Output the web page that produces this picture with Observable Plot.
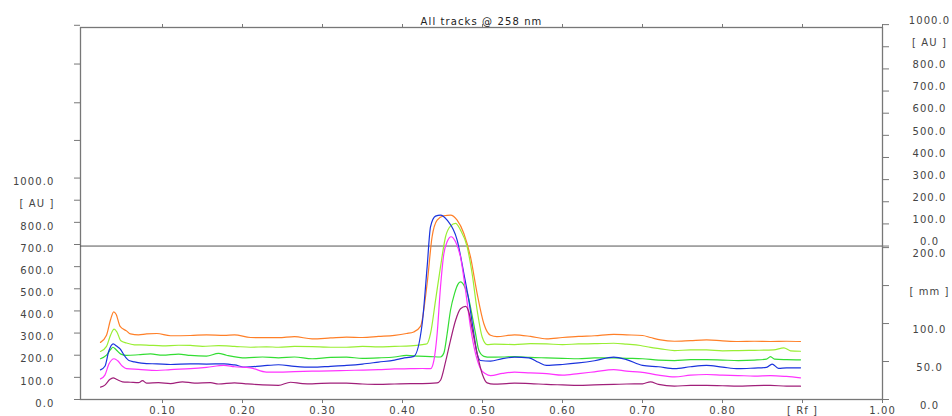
<!DOCTYPE html>
<html>
<head>
<meta charset="utf-8">
<script src="https://cdn.jsdelivr.net/npm/d3@7"></script>
<script src="https://cdn.jsdelivr.net/npm/@observablehq/plot@0.6"></script>
<style>
  html, body { margin: 0; padding: 0; background: #fff; }
  svg { display: block; }
  svg text { letter-spacing: 1.1px; }
</style>
</head>
<body>
<div id="chart"></div>
<script>
// ---- Data (Rf, AU) ----
const title = "All tracks @ 258 nm";
const trackNames = ["Track 1", "Track 2", "Track 3", "Track 4", "Track 5", "Track 6"];
const trackColors = ["#ff7f27", "#99ee33", "#33dd33", "#1a33dd", "#ff33ff", "#a01f7a"];

const track1 = [[0.0225,258],[0.03,290],[0.035,360],[0.039,396],[0.042,385],[0.047,330],[0.055,310],[0.06,296],[0.07,292],[0.08,296],[0.093,298],[0.11,288],[0.135,289],[0.155,292],[0.177,290],[0.19,292],[0.21,280],[0.245,279],[0.265,284],[0.287,274],[0.31,278],[0.33,282],[0.35,280],[0.37,285],[0.39,290],[0.405,298],[0.414,305],[0.4225,330],[0.4308,524],[0.437,735],[0.4433,810],[0.4517,830],[0.46,833],[0.4683,810],[0.4767,750],[0.485,644],[0.4933,478],[0.5017,342],[0.51,290],[0.518,284],[0.54,292],[0.56,285],[0.58,274],[0.60,280],[0.62,285],[0.64,288],[0.664,294],[0.68,292],[0.70,289],[0.71,280],[0.7225,269],[0.74,263],[0.76,266],[0.78,269],[0.80,265],[0.82,262],[0.84,263],[0.86,262],[0.88,263],[0.8975,262]];
const track2 = [[0.0225,217],[0.03,240],[0.035,290],[0.0395,318],[0.043,305],[0.048,265],[0.055,255],[0.065,247],[0.08,246],[0.10,242],[0.12,245],[0.135,244],[0.15,240],[0.17,243],[0.19,240],[0.21,236],[0.23,238],[0.245,236],[0.265,240],[0.287,239],[0.31,236],[0.33,236],[0.35,240],[0.37,238],[0.39,240],[0.41,242],[0.425,248],[0.4308,252],[0.435,297],[0.4413,448],[0.4475,599],[0.4538,735],[0.46,783],[0.4663,795],[0.4725,765],[0.4808,690],[0.487,569],[0.4933,403],[0.4996,282],[0.5058,248],[0.515,250],[0.54,248],[0.56,252],[0.58,251],[0.60,248],[0.62,251],[0.64,252],[0.664,254],[0.68,250],[0.6975,244],[0.71,235],[0.7225,229],[0.74,221],[0.76,224],[0.78,224],[0.80,220],[0.82,221],[0.84,222],[0.864,224],[0.8767,233],[0.885,220],[0.8975,218]];
const track3 = [[0.0225,184],[0.03,200],[0.035,225],[0.038,236],[0.042,225],[0.048,205],[0.055,199],[0.07,202],[0.085,206],[0.10,200],[0.12,205],[0.135,199],[0.155,196],[0.17,208],[0.18,200],[0.204,188],[0.225,192],[0.245,188],[0.265,192],[0.287,184],[0.31,190],[0.33,191],[0.35,186],[0.37,188],[0.39,192],[0.405,199],[0.42,196],[0.435,194],[0.4475,192],[0.4517,210],[0.4558,297],[0.46,403],[0.465,478],[0.4692,520],[0.4725,531],[0.4775,511],[0.4817,471],[0.4858,403],[0.4913,297],[0.4954,222],[0.5017,195],[0.51,191],[0.525,192],[0.54,194],[0.56,190],[0.58,188],[0.60,186],[0.62,184],[0.64,188],[0.664,188],[0.68,186],[0.70,184],[0.72,178],[0.74,176],[0.76,180],[0.78,180],[0.80,178],[0.82,176],[0.84,178],[0.855,182],[0.86,194],[0.865,182],[0.88,180],[0.8975,179]];
const track4 = [[0.0225,134],[0.028,150],[0.033,220],[0.0383,251],[0.043,240],[0.047,229],[0.052,200],[0.058,176],[0.065,170],[0.08,162],[0.093,161],[0.11,158],[0.135,161],[0.155,160],[0.177,161],[0.19,156],[0.204,146],[0.225,152],[0.245,157],[0.265,150],[0.287,146],[0.31,150],[0.33,154],[0.35,160],[0.37,169],[0.39,178],[0.40,186],[0.4142,195],[0.4246,342],[0.4308,599],[0.435,780],[0.4413,828],[0.4475,833],[0.4558,810],[0.4683,720],[0.4767,569],[0.4829,448],[0.4892,297],[0.4933,207],[0.4975,176],[0.51,173],[0.525,185],[0.54,191],[0.558,188],[0.57,168],[0.58,154],[0.60,158],[0.62,165],[0.64,175],[0.664,191],[0.68,180],[0.70,154],[0.72,148],[0.74,139],[0.76,148],[0.78,154],[0.80,146],[0.82,139],[0.84,142],[0.855,145],[0.862,160],[0.87,141],[0.88,143],[0.8975,143]];
const track5 = [[0.0225,93],[0.028,110],[0.033,160],[0.0395,184],[0.044,175],[0.05,150],[0.055,139],[0.07,136],[0.093,131],[0.11,135],[0.135,139],[0.155,145],[0.1767,154],[0.19,148],[0.21,143],[0.23,124],[0.245,124],[0.265,126],[0.287,128],[0.31,129],[0.33,131],[0.35,133],[0.37,135],[0.39,138],[0.41,139],[0.425,140],[0.435,139],[0.4392,176],[0.4433,297],[0.4475,508],[0.4517,659],[0.4558,712],[0.4608,735],[0.4663,712],[0.4725,644],[0.4788,493],[0.485,327],[0.4913,207],[0.4975,139],[0.5038,116],[0.51,108],[0.525,118],[0.54,124],[0.56,120],[0.58,117],[0.60,110],[0.62,117],[0.64,125],[0.664,135],[0.68,128],[0.6975,124],[0.72,110],[0.74,102],[0.76,110],[0.78,113],[0.80,110],[0.82,108],[0.84,106],[0.86,108],[0.88,104],[0.8975,98]];
const track6 = [[0.0225,56],[0.028,65],[0.034,90],[0.0383,98],[0.043,90],[0.05,80],[0.06,78],[0.07,76],[0.075,85],[0.08,74],[0.095,76],[0.11,72],[0.125,80],[0.14,74],[0.16,76],[0.17,70],[0.19,75],[0.204,71],[0.225,66],[0.245,64],[0.26,78],[0.275,72],[0.287,71],[0.31,74],[0.33,74],[0.35,70],[0.37,68],[0.39,70],[0.41,72],[0.425,72],[0.4433,75],[0.4475,87],[0.4538,170],[0.46,267],[0.4663,357],[0.4725,410],[0.4788,421],[0.4829,395],[0.487,320],[0.4933,207],[0.4996,116],[0.5058,75],[0.5142,69],[0.53,72],[0.54,74],[0.56,72],[0.58,68],[0.60,66],[0.62,64],[0.64,66],[0.664,68],[0.68,70],[0.70,71],[0.71,80],[0.72,68],[0.74,60],[0.76,64],[0.78,64],[0.80,62],[0.82,60],[0.84,63],[0.86,64],[0.88,60],[0.8975,60]];

// Axis ticks and labels
const xTicks = [0.1, 0.2, 0.3, 0.4, 0.5, 0.6, 0.7, 0.8, 0.9, 1.0];
const xTickLabels = ["0.10", "0.20", "0.30", "0.40", "0.50", "0.60", "0.70", "0.80", "[ Rf ]", "1.00"];
const leftTicks = [0, 100, 200, 300, 400, 500, 600, 700, 800, 900, 1000];
const leftTickLabels = ["0.0", "100.0", "200.0", "300.0", "400.0", "500.0", "600.0", "700.0", "800.0", "[ AU ]", "1000.0"];
const leftUpperTicks = [1170, 1340, 1515, 1690];
const rightAuTicks = [0, 100, 200, 300, 400, 500, 600, 700, 800, 900, 1000];
const rightAuLabels = ["0.0", "100.0", "200.0", "300.0", "400.0", "500.0", "600.0", "700.0", "800.0", "[ AU ]", "1000.0"];
const rightMmTicks = [0, 50, 100, 150, 200];
const rightMmLabels = ["0.0", "50.0", "100.0", "[ mm ]", "200.0"];
const upperOffsetAu = 693;   // zero of the upper right AU scale, on the left AU scale
const auPerMm = 3.43;        // mm scale expressed on the AU scale

// ---- Build tables ----
const tracks = [track1, track2, track3, track4, track5, track6];
const lineData = tracks.flatMap((t, i) => t.map(([rf, au]) => ({track: trackNames[i], rf, au})));
const leftLabelData = leftTicks.map((v, i) => ({v, t: leftTickLabels[i]}));
const rightAuData = rightAuTicks.map((v, i) => ({v: v + upperOffsetAu, t: rightAuLabels[i]}));
const rightMmData = rightMmTicks.map((v, i) => ({v: v * auPerMm, t: rightMmLabels[i]}));

const font = "'DejaVu Sans', Verdana, sans-serif";
const textColor = "#444";

const chart = Plot.plot({
  width: 952,
  height: 416,
  marginLeft: 80,
  marginRight: 70,
  marginTop: 27,
  marginBottom: 17,
  x: {domain: [-0.0025, 1], axis: null},
  y: {domain: [0, 1680], axis: null},
  color: {domain: trackNames, range: trackColors},
  style: {fontFamily: font, fontSize: "10px", color: textColor, background: "#fff", overflow: "visible"},
  marks: [
    Plot.frame({stroke: "#777", strokeWidth: 1.3}),
    Plot.ruleY([upperOffsetAu], {stroke: "#555", strokeWidth: 1}),
    Plot.axisX({anchor: "bottom", ticks: xTicks, tickSize: 4, tickPadding: 3, stroke: "#777", fill: textColor,
      tickFormat: (d) => xTickLabels[xTicks.findIndex(t => Math.abs(t - d) < 1e-9)], label: null}),
    Plot.axisX({anchor: "top", ticks: xTicks, tickSize: 4, stroke: "#777", tickFormat: () => "", label: null}),
    Plot.axisY({anchor: "left", ticks: [...leftTicks, ...leftUpperTicks], tickSize: 6, stroke: "#777", tickFormat: () => "", label: null}),
    Plot.text(leftLabelData, {y: "v", text: "t", frameAnchor: "left", dx: -26, dy: 4, textAnchor: "end", fill: textColor}),
    Plot.axisY({anchor: "right", ticks: rightAuData.map(d => d.v), tickSize: 6, stroke: "#777", tickFormat: () => "", label: null}),
    Plot.axisY({anchor: "right", ticks: rightMmData.map(d => d.v), tickSize: 6, stroke: "#777", tickFormat: () => "", label: null}),
    Plot.text(rightAuData, {y: "v", text: "t", frameAnchor: "right", dx: 47, dy: -4, textAnchor: "middle", fill: textColor}),
    Plot.text(rightMmData, {y: "v", text: "t", frameAnchor: "right", dx: 47, dy: 6, textAnchor: "middle", fill: textColor}),
    Plot.line(lineData, {x: "rf", y: "au", z: "track", stroke: "track", strokeWidth: 1.2, curve: "monotone-x"}),
    Plot.text([title], {frameAnchor: "top", dy: -10, fill: "#222"})
  ]
});
document.getElementById("chart").appendChild(chart);
</script>
</body>
</html>
